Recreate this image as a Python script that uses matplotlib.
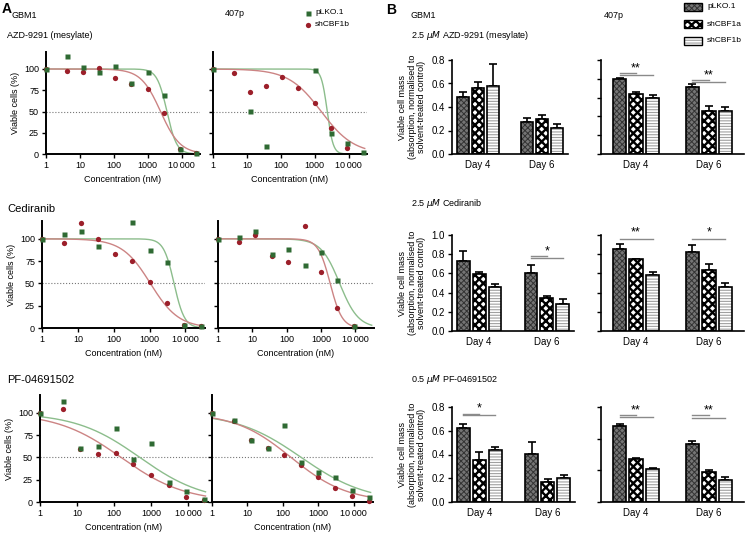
import numpy as np
import matplotlib as mpl
import matplotlib.pyplot as plt
from matplotlib.patches import Rectangle

plt.rcParams['font.family'] = ['Liberation Sans', 'DejaVu Sans']

W, H = 748, 534
fig = plt.figure(figsize=(W / 100, H / 100), dpi=100)


def rect(l, t, r, b):
    return [l / W, 1 - b / H, (r - l) / W, (b - t) / H]


nan = np.nan

# ---- panel A: dose response, viable cells (%) ----
conc = [1, 4.1, 12.3, 37, 111, 333, 1000, 3000, 9000, 27000]

azd_gbm1_plko = [100, 115, 102, 96, 104, 83, 96, 69, 6, 1]
azd_gbm1_shb = [100, 98, 97, 101.5, 90, 82, 76, 48, 6, 1]
azd_407p_plko = [100, nan, 51, 10, nan, nan, 99, 25, 12.5, 2.5]
azd_407p_shb = [100, 95, 73, 80, 90.5, 78, 60, 31, 7, nan]
ced_gbm1_plko = [100, 105, 108.5, 92.5, nan, 119, 87, 74, 3.5, 2]
ced_gbm1_shb = [100, 95, 117.5, 100, 83, 75.5, 52, 28, 3, 2]
ced_407p_plko = [100, 102.5, 109, 82.5, 89, 71, 85, 54, 2.5, nan]
ced_407p_shb = [100, 97, 104, 81, 74, 114, 62.5, 22.5, 2, nan]
pf_gbm1_plko = [100, 113, 61, 63, 83, 48.5, 66, 22, 12.5, 3]
pf_gbm1_shb = [100, 104, 59, 54, 55.5, 43, 30, 19.5, 6, 2]
pf_407p_plko = [100, 92, 70, 61, 86, 45, 33.5, 28.5, 14, 5.5]
pf_407p_shb = [100, 91, 69.5, 61, 53, 42, 27.5, 16, 7, 1.5]

# fitted curves: (IC50 in nM, Hill slope) for pLKO.1 and shCBF1b
fit_azd_gbm1 = [(3700, 3.0), (2400, 1.5)]
fit_azd_407p = [(2350, 5.0), (1560, 0.9)]
fit_ced_gbm1 = [(4800, 3.0), (1050, 1.1)]
fit_ced_407p = [(3500, 1.6), (1850, 2.5)]
fit_pf_gbm1 = [(500, 0.5), (155, 0.5)]
fit_pf_407p = [(330, 0.47), (170, 0.55)]

xticks = [1, 10, 100, 1000, 10000]
xticklabels = ['1', '10', '100', '1000', '10\u2009000']

# ---- panel B: viable cell mass ----
days = ['Day 4', 'Day 6']
groups = ['pLKO.1', 'shCBF1a', 'shCBF1b']

azd_gbm1_mass = [[0.481, 0.269], [0.56, 0.302], [0.58, 0.22]]
azd_gbm1_err = [[0.05, 0.036], [0.056, 0.026], [0.183, 0.037]]
azd_407p_mass = [[0.80, 0.71], [0.636, 0.459], [0.594, 0.459]]
azd_407p_err = [[0.004, 0.032], [0.028, 0.053], [0.035, 0.039]]
ced_gbm1_mass = [[0.728, 0.60], [0.589, 0.348], [0.46, 0.286]]
ced_gbm1_err = [[0.108, 0.086], [0.028, 0.021], [0.028, 0.05]]
ced_407p_mass = [[0.854, 0.822], [0.749, 0.634], [0.582, 0.46]]
ced_407p_err = [[0.048, 0.073], [0.003, 0.063], [0.035, 0.042]]
pf_gbm1_mass = [[0.626, 0.402], [0.357, 0.169], [0.441, 0.202]]
pf_gbm1_err = [[0.034, 0.104], [0.064, 0.021], [0.022, 0.028]]
pf_407p_mass = [[0.478, 0.364], [0.274, 0.189], [0.208, 0.137]]
pf_407p_err = [[0.017, 0.021], [0.006, 0.011], [0.007, 0.021]]

# significance: (day index, last group index, line height, label)
sig_azd_407p = [(0, 1, 0.866, ''), (0, 2, 0.841, '**'), (1, 1, 0.788, ''), (1, 2, 0.763, '**')]
sig_ced_gbm1 = [(1, 1, 0.78, ''), (1, 2, 0.756, '*')]
sig_ced_407p = [(0, 2, 0.955, '**'), (1, 2, 0.958, '*')]
sig_pf_gbm1 = [(0, 1, 0.744, ''), (0, 2, 0.73, '*')]
sig_pf_407p = [(0, 1, 0.552, ''), (0, 2, 0.537, '**'), (1, 1, 0.547, ''), (1, 2, 0.533, '**')]

green, red = '#2f6a33', '#9c1f2a'
green_fit, red_fit = '#8cbd8c', '#cc8484'
face = ['#757575', 'white', 'white']
hatch_col = ['#333333', 'black', '#a0a0a0']
hatches = ['xxxxxx', 'xxxx', '------']
hatch_lw = [0.7, 1.7, 0.8]


def dose_panel(box, plko, shb, fits, show_y):
    ax = fig.add_axes(rect(*box))
    x = np.logspace(0, np.log10(30000), 300)
    for (ic50, hill), col in zip(fits, [green_fit, red_fit]):
        ax.plot(x, 100 / (1 + (x / ic50) ** hill), color=col, lw=1.0, zorder=2)
    ax.axhline(50, color='#777777', ls=':', lw=0.8, zorder=1)
    ax.plot(conc, shb, 'o', color=red, ms=3.8, mec='none', zorder=3, clip_on=False)
    ax.plot(conc, plko, 's', color=green, ms=3.6, mec='none', zorder=4, clip_on=False)
    ax.set_xscale('log')
    ax.set_xlim(1, 35000)
    ax.set_ylim(0, 120)
    ax.set_xticks(xticks)
    ax.set_xticklabels(xticklabels)
    ax.xaxis.set_minor_locator(plt.NullLocator())
    ax.set_yticks([0, 25, 50, 75, 100])
    if show_y:
        ax.set_ylabel('Viable cells (%)', fontsize=6.5, labelpad=3)
    else:
        ax.set_yticklabels([])
    ax.set_xlabel('Concentration (nM)', fontsize=6.5, labelpad=4)
    for s in ['top', 'right']:
        ax.spines[s].set_visible(False)
    for s in ['left', 'bottom']:
        ax.spines[s].set_linewidth(1.4)
    ax.tick_params(labelsize=6.5, length=3, width=1, pad=2)
    ax.patch.set_alpha(0)
    return ax


dose_panel((46, 52, 200, 154), azd_gbm1_plko, azd_gbm1_shb, fit_azd_gbm1, True)
dose_panel((213, 52, 367, 154), azd_407p_plko, azd_407p_shb, fit_azd_407p, False)
dose_panel((42, 221, 205, 328), ced_gbm1_plko, ced_gbm1_shb, fit_ced_gbm1, True)
dose_panel((218, 221, 374, 328), ced_407p_plko, ced_407p_shb, fit_ced_407p, False)
dose_panel((40, 395, 208, 502), pf_gbm1_plko, pf_gbm1_shb, fit_pf_gbm1, True)
dose_panel((212, 395, 373, 502), pf_407p_plko, pf_407p_shb, fit_pf_407p, False)


def hatched_bar(ax, pos, vals, width, g):
    with mpl.rc_context({'hatch.linewidth': hatch_lw[g]}):
        ax.bar(pos, vals, width, color=face[g], edgecolor=hatch_col[g],
               hatch=hatches[g], lw=0, zorder=2)
    ax.bar(pos, vals, width, fill=False, edgecolor='black', lw=1.2, zorder=3)


def bar_panel(box, mass, err, ymax, sig, show_y, xlim, width, step):
    ax = fig.add_axes(rect(*box))
    xs = np.arange(len(days))
    for g in range(len(groups)):
        pos = xs + (g - 1) * step
        ax.errorbar(pos, mass[g], yerr=[np.zeros(len(days)), err[g]], fmt='none',
                    ecolor='black', elinewidth=1.2, capsize=3, capthick=1.2, zorder=1)
        hatched_bar(ax, pos, mass[g], width, g)
    for day, last, y, label in sig:
        x0 = xs[day] - step
        x1 = xs[day] + (last - 1) * step
        ax.plot([x0, x1], [y, y], color='#8a8a8a', lw=1.0, zorder=4, clip_on=False)
        if label:
            ax.text(xs[day], y + 0.01 * ymax, label, ha='center', va='bottom',
                    fontsize=9)
    ax.set_xlim(*xlim)
    ax.set_ylim(0, ymax)
    ax.set_yticks(np.arange(0, ymax + 0.01, 0.2))
    ax.set_xticks(xs)
    ax.set_xticklabels(days)
    ax.tick_params(axis='x', length=0, labelsize=7, pad=4)
    ax.tick_params(axis='y', length=3, width=1, labelsize=7, pad=2)
    if show_y:
        ax.set_yticklabels([f'{v:.1f}' for v in np.arange(0, ymax + 0.01, 0.2)])
        ax.set_ylabel('Viable cell mass\n(absorption, normalised to\nsolvent-treated control)',
                      fontsize=6.5, labelpad=4, linespacing=1.05)
    else:
        ax.set_yticklabels([])
    for s in ['top', 'right']:
        ax.spines[s].set_visible(False)
    for s in ['left', 'bottom']:
        ax.spines[s].set_linewidth(1.2)
    ax.patch.set_alpha(0)
    return ax


lx = (-0.4, 1.4)
rx = (-0.48, 1.48)
bar_panel((452, 60, 568, 154), azd_gbm1_mass, azd_gbm1_err, 0.8, [], True, lx, 0.19, 0.235)
bar_panel((601, 60, 744, 154), azd_407p_mass, azd_407p_err, 1.0, sig_azd_407p, False, rx, 0.185, 0.226)
bar_panel((452, 235, 574, 331), ced_gbm1_mass, ced_gbm1_err, 1.0, sig_ced_gbm1, True, lx, 0.19, 0.235)
bar_panel((601, 235, 744, 331), ced_407p_mass, ced_407p_err, 1.0, sig_ced_407p, False, rx, 0.185, 0.226)
bar_panel((452, 407, 575, 502), pf_gbm1_mass, pf_gbm1_err, 0.8, sig_pf_gbm1, True, lx, 0.19, 0.235)
bar_panel((601, 407, 744, 502), pf_407p_mass, pf_407p_err, 0.6, sig_pf_407p, False, rx, 0.185, 0.226)

# ---- overlay for titles and legends (pixel coordinates) ----
ov = fig.add_axes([0, 0, 1, 1])
ov.set_xlim(0, W)
ov.set_ylim(H, 0)
ov.axis('off')

ov.text(2, 9, 'A', fontsize=10, fontweight='bold', va='center')
ov.text(12, 15, 'GBM1', fontsize=6.5, va='center')
ov.text(225, 14, '407p', fontsize=6.5, va='center')
ov.text(7, 35, 'AZD-9291 (mesylate)', fontsize=6.5, va='center')
ov.text(7, 209, 'Cediranib', fontsize=8, va='center')
ov.text(7, 380, 'PF-04691502', fontsize=8, va='center')

ov.plot([308], [13], 's', color=green, ms=3.6, mec='none')
ov.plot([308], [25], 'o', color=red, ms=3.8, mec='none')
ov.text(315, 13, 'pLKO.1', fontsize=6, va='center')
ov.text(315, 25, 'shCBF1b', fontsize=6, va='center')

ov.text(386, 10, 'B', fontsize=10, fontweight='bold', va='center')
ov.text(411, 15, 'GBM1', fontsize=6.5, va='center')
ov.text(604, 15, '407p', fontsize=6.5, va='center')
ov.text(411, 36, r'2.5 $\mathit{\mu M}$ AZD-9291 (mesylate)', fontsize=6.5, va='center')
ov.text(411, 204, r'2.5 $\mathit{\mu M}$ Cediranib', fontsize=6.5, va='center')
ov.text(411, 380, r'0.5 $\mathit{\mu M}$ PF-04691502', fontsize=6.5, va='center')

for g, y in enumerate([3, 20, 37]):
    with mpl.rc_context({'hatch.linewidth': hatch_lw[g]}):
        ov.add_patch(Rectangle((684, y), 18, 8, facecolor=face[g], edgecolor=hatch_col[g],
                               hatch=hatches[g], lw=0))
    ov.add_patch(Rectangle((684, y), 18, 8, fill=False, edgecolor='black', lw=1.0))
    ov.text(707, y + 4, groups[g], fontsize=6, va='center')

fig.savefig('out.png', dpi=100)
